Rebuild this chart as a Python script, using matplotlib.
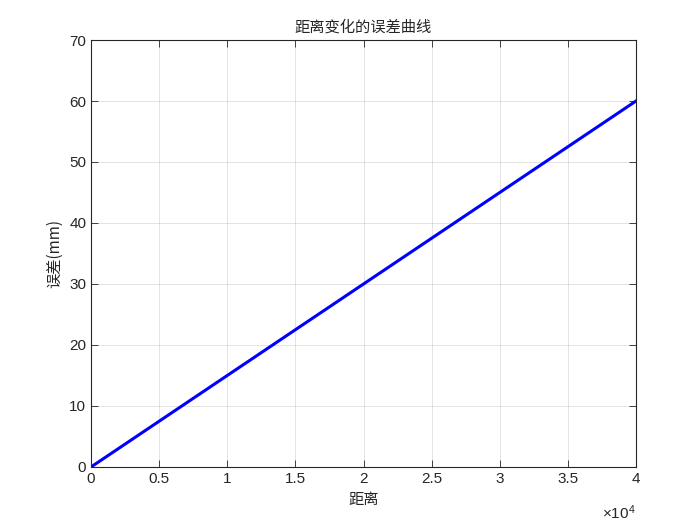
import matplotlib
matplotlib.use('Agg')
import matplotlib.pyplot as plt
from matplotlib.ticker import FuncFormatter, MultipleLocator

plt.rcParams['font.family'] = ['Liberation Sans', 'Noto Sans CJK SC', 'DejaVu Sans']
plt.rcParams['mathtext.fontset'] = 'custom'
plt.rcParams['mathtext.rm'] = 'Liberation Sans'

# data: error grows linearly with distance
distance = [0, 10000, 20000, 30000, 40000]
error_mm = [0, 15, 30, 45, 60]

fig = plt.figure(figsize=(7, 5.25), dpi=100)
ax = fig.add_axes([0.13, 0.1105, 0.7786, 0.8133])

ax.plot(distance, error_mm, color='#0000ff', linewidth=2.2)

ax.set_xlim(0, 40000)
ax.set_ylim(0, 70)
ax.xaxis.set_major_locator(MultipleLocator(5000))
ax.yaxis.set_major_locator(MultipleLocator(10))
# MATLAB style: labels in units of 1e4, exponent shown separately
ax.xaxis.set_major_formatter(FuncFormatter(lambda v, p: '%g' % (v / 1e4)))
ax.text(1.0, -0.085, '×10$\\mathregular{^4}$', transform=ax.transAxes,
        ha='right', va='top', fontsize=11, color='#262626')

ax.grid(True, color='#000000', alpha=0.13, linewidth=0.6)
ax.tick_params(direction='in', top=True, right=True, labelsize=11, length=5, width=0.6,
               colors='#262626', labelcolor='#262626')
for s in ax.spines.values():
    s.set_linewidth(0.8)
    s.set_color('#262626')

cjk = ['Noto Sans CJK SC', 'DejaVu Sans']
ax.set_title('距离变化的误差曲线', family=cjk, fontsize=11, color='#262626', pad=6)
ax.set_xlabel('距离', family=cjk, fontsize=11, color='#262626', labelpad=4)
ax.set_ylabel('误差(mm)', family=cjk, fontsize=11, color='#262626', labelpad=4)

fig.savefig('out.png', dpi=100)
